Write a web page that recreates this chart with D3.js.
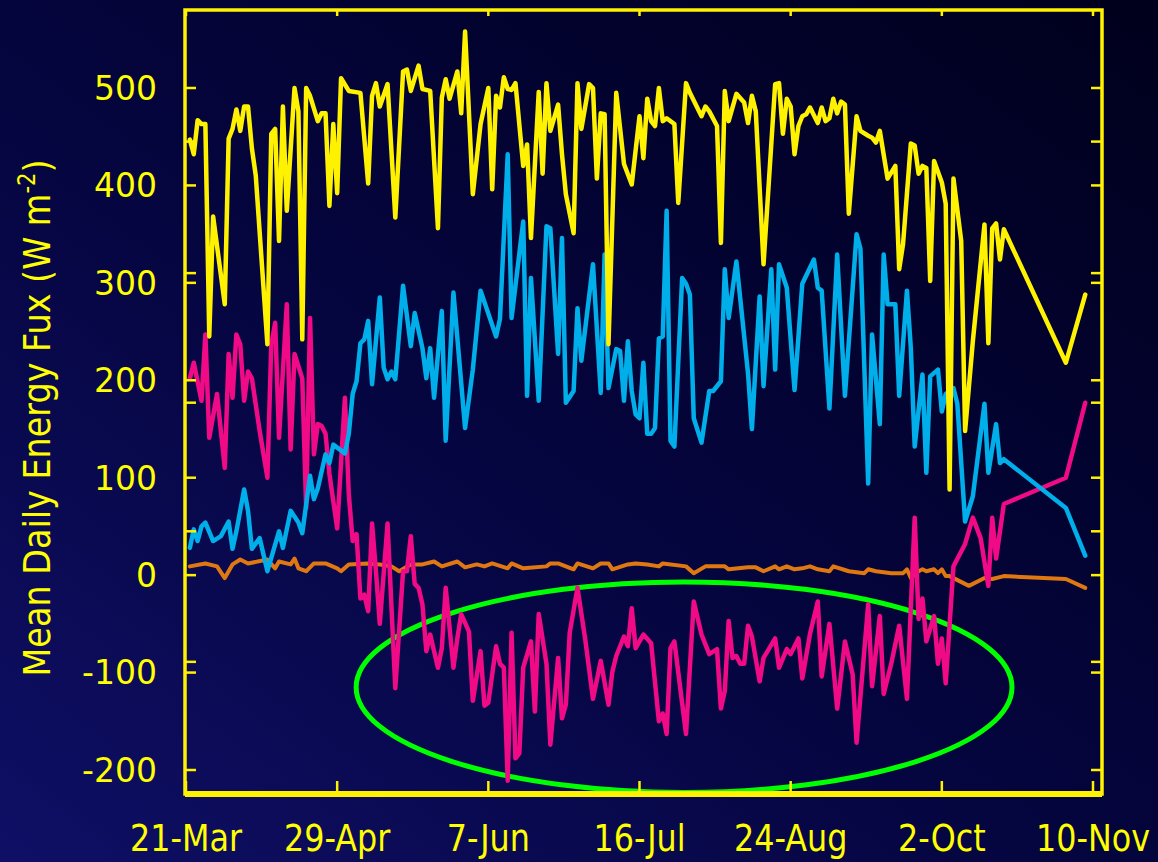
<!DOCTYPE html>
<html>
<head>
<meta charset="utf-8">
<script src="https://cdn.jsdelivr.net/npm/d3@7"></script>
<style>
  html, body { margin: 0; padding: 0; background: #03032a; }
  svg { display: block; }
</style>
</head>
<body>
<svg id="chart" width="1158" height="862"></svg>
<script>
// ==== DATA (day offset from 21-Mar, W m-2) ====
const startUTC = Date.UTC(2003, 2, 21);
const tickDays = [0, 39, 78, 117, 156, 195, 234];
const tickLabels = ["21-Mar", "29-Apr", "7-Jun", "16-Jul", "24-Aug", "2-Oct", "10-Nov"];
const yTicks = [500, 400, 300, 200, 100, 0, -100, -200];
const yExtraTicks = [-89, 45, 177, 310, 445]; // unlabelled ticks of the underlying plot

const yellowPts = [[1,447],[2,432],[3,467],[4,463],[5,463],[6,245],[7,368],[10,278],[11,448],[12,458],[13,478],[14,456],[15,481],[16,481],[17,438],[18,410],[21,237],[22,453],[23,458],[24,343],[25,481],[26,374],[28,500],[29,476],[30,242],[31,500],[32,492],[34,466],[35,474],[36,474],[37,379],[38,463],[39,392],[40,510],[42,497],[45,495],[47,402],[48,492],[49,505],[50,481],[52,504],[54,367],[56,517],[57,519],[58,497],[60,523],[61,499],[63,497],[65,356],[66,490],[67,509],[68,489],[70,517],[71,474],[72,558],[74,391],[76,463],[78,500],[79,396],[80,492],[81,480],[82,511],[83,499],[84,498],[85,505],[87,420],[88,442],[89,346],[91,496],[92,412],[93,505],[94,456],[96,483],[97,432],[98,391],[100,351],[101,505],[102,458],[104,504],[105,500],[106,407],[107,474],[108,473],[109,237],[111,495],[113,422],[115,401],[117,471],[118,428],[119,489],[120,466],[121,461],[122,500],[123,466],[124,469],[126,463],[127,382],[129,505],[130,495],[133,471],[134,481],[135,476],[137,461],[138,341],[139,497],[140,466],[142,494],[144,485],[145,464],[146,492],[147,476],[149,319],[152,504],[153,505],[154,453],[155,489],[156,481],[157,432],[158,461],[159,471],[160,473],[161,480],[163,464],[164,480],[165,466],[166,469],[167,489],[168,474],[169,486],[170,483],[171,371],[173,471],[174,456],[176,451],[177,449],[178,444],[179,456],[181,407],[183,420],[184,314],[185,340],[187,443],[188,441],[189,412],[190,420],[191,418],[192,302],[193,425],[195,403],[196,381],[197,88],[198,407],[200,343],[201,148],[203,240],[206,360],[207,238],[208,356],[209,361],[210,324],[211,355],[227,218],[232,288]];

const cyanPts = [[1,28],[2,47],[3,35],[4,50],[5,54],[7,35],[9,40],[11,55],[12,27],[13,45],[15,88],[16,66],[17,27],[19,38],[21,4],[24,45],[25,28],[27,66],[29,54],[30,43],[32,102],[33,78],[34,89],[36,124],[37,115],[38,134],[41,125],[42,145],[43,186],[44,199],[45,238],[46,242],[47,261],[48,196],[50,285],[51,213],[52,201],[53,209],[54,201],[56,297],[58,235],[59,269],[61,233],[62,202],[63,233],[64,182],[66,271],[67,138],[69,290],[72,151],[74,211],[76,292],[80,245],[81,263],[83,432],[84,264],[87,363],[88,184],[89,305],[91,179],[93,358],[94,356],[96,227],[97,346],[98,177],[100,189],[101,274],[102,220],[105,319],[107,187],[108,329],[109,192],[111,232],[112,230],[113,179],[114,240],[115,189],[116,165],[117,161],[118,218],[119,145],[120,145],[121,151],[122,243],[123,245],[124,374],[125,138],[126,132],[128,305],[129,299],[130,288],[131,161],[133,136],[135,189],[136,189],[138,199],[139,314],[140,264],[142,322],[145,207],[146,150],[148,286],[149,194],[151,314],[152,211],[153,319],[155,295],[157,190],[159,299],[162,324],[163,295],[164,292],[166,171],[168,329],[170,184],[173,350],[174,335],[176,94],[177,247],[179,155],[180,329],[181,278],[183,278],[184,184],[186,292],[187,233],[188,132],[190,206],[191,105],[192,204],[194,211],[195,168],[196,186],[198,192],[199,176],[201,55],[203,81],[206,176],[207,105],[209,155],[210,115],[211,119],[227,69],[232,20]];

const pinkPts = [[1,202],[2,218],[4,179],[5,247],[6,141],[8,186],[10,110],[11,227],[12,182],[13,247],[14,237],[15,179],[16,209],[17,202],[19,148],[21,100],[22,237],[23,259],[24,141],[26,278],[27,129],[28,227],[30,202],[31,69],[32,264],[33,124],[34,155],[35,153],[36,145],[37,104],[38,76],[39,48],[41,182],[42,83],[43,35],[44,42],[45,-24],[46,-20],[47,-37],[48,53],[49,4],[50,-50],[52,53],[54,-116],[56,4],[57,4],[58,40],[59,-9],[60,-13],[61,-30],[62,-78],[63,-61],[65,-95],[66,-75],[67,-13],[69,-95],[70,-65],[71,-40],[73,-58],[74,-129],[76,-78],[77,-134],[78,-131],[80,-73],[81,-91],[82,-95],[83,-211],[84,-59],[85,-188],[86,-183],[87,-95],[89,-68],[90,-140],[91,-40],[93,-91],[94,-174],[96,-85],[97,-147],[98,-133],[99,-59],[101,-13],[103,-66],[105,-127],[107,-88],[109,-133],[110,-99],[111,-83],[113,-63],[114,-73],[115,-34],[116,-75],[118,-61],[120,-70],[122,-150],[123,-142],[124,-163],[125,-75],[126,-68],[129,-163],[131,-27],[133,-61],[135,-81],[137,-76],[138,-137],[139,-119],[140,-47],[141,-85],[142,-83],[143,-91],[144,-91],[145,-52],[146,-63],[148,-109],[149,-85],[152,-65],[153,-95],[155,-76],[156,-81],[158,-65],[159,-106],[161,-60],[163,-27],[164,-104],[166,-50],[168,-137],[170,-68],[172,-102],[173,-172],[176,-30],[177,-114],[179,-42],[180,-122],[182,-90],[184,-52],[186,-127],[188,59],[189,-45],[190,-24],[191,-68],[193,-42],[194,-91],[195,-65],[196,-111],[198,9],[201,32],[203,59],[205,38],[207,-11],[208,59],[209,17],[211,73],[227,100],[232,177]];

const orangePts = [[1,9],[5,12],[8,9],[10,-3],[12,11],[14,16],[16,12],[21,16],[23,7],[24,14],[27,11],[28,17],[29,7],[31,4],[33,12],[36,12],[39,7],[40,4],[42,11],[47,12],[50,11],[53,9],[55,4],[58,11],[61,11],[64,14],[66,9],[70,14],[72,8],[75,11],[77,9],[79,12],[83,7],[84,12],[87,7],[93,9],[94,12],[96,12],[100,6],[101,12],[105,7],[107,12],[109,12],[110,6],[114,11],[116,12],[119,11],[122,9],[123,12],[129,9],[131,2],[134,9],[139,9],[140,6],[145,8],[147,8],[149,4],[152,9],[153,6],[155,9],[157,6],[159,7],[161,9],[163,6],[166,4],[167,9],[171,4],[175,2],[176,6],[178,4],[182,2],[185,2],[186,6],[187,-3],[189,4],[190,6],[191,4],[193,6],[194,2],[195,6],[196,-1],[197,-1],[202,-11],[206,-3],[208,-4],[211,-1],[227,-4],[232,-13]];

// highlighted region (green ellipse): centre [day, W m-2], radii [days, W m-2]
const ellipseCenter = [128.5, -115];
const ellipseRadius = [84.6, 108];

// ==== LAYOUT ====
const svg = d3.select("#chart");
const W = 1158, H = 862;
const frame = { left: 185, right: 1102, top: 10, bottom: 794 };

const day = d => new Date(startUTC + d * 86400000);

const x = d3.scaleUtc()
  .domain([day(0), day(234)])
  .range([186, 1093]);

const y = d3.scaleLinear()
  .domain([-200, 500])
  .range([770, 88]);

const YELLOW = "#fff200";
const TEXT = "#ffff00";

// background
const defs = svg.append("defs");
const bg = defs.append("linearGradient")
  .attr("id", "bg")
  .attr("x1", "0%").attr("y1", "100%")
  .attr("x2", "100%").attr("y2", "0%");
bg.append("stop").attr("offset", "0%").attr("stop-color", "#0f0f66");
bg.append("stop").attr("offset", "45%").attr("stop-color", "#050540");
bg.append("stop").attr("offset", "100%").attr("stop-color", "#00001c");

svg.append("rect").attr("width", W).attr("height", H).attr("fill", "url(#bg)");

defs.append("clipPath").attr("id", "plotClip")
  .append("rect")
  .attr("x", frame.left).attr("y", frame.top)
  .attr("width", frame.right - frame.left)
  .attr("height", frame.bottom - frame.top);

// ==== SERIES ====
const line = d3.line()
  .x(d => x(day(d[0])))
  .y(d => y(d[1]));

const plot = svg.append("g").attr("clip-path", "url(#plotClip)");

function drawSeries(pts, color, width) {
  plot.append("path")
    .datum(pts)
    .attr("d", line)
    .attr("fill", "none")
    .attr("stroke", color)
    .attr("stroke-width", width)
    .attr("stroke-linejoin", "round")
    .attr("stroke-linecap", "round");
}

drawSeries(orangePts, "#e07812", 4);

// green ellipse
const ecx = x(day(ellipseCenter[0]));
const ecy = y(ellipseCenter[1]);
plot.append("ellipse")
  .attr("cx", ecx)
  .attr("cy", ecy)
  .attr("rx", x(day(ellipseCenter[0] + ellipseRadius[0])) - ecx)
  .attr("ry", y(ellipseCenter[1] - ellipseRadius[1]) - ecy)
  .attr("fill", "none")
  .attr("stroke", "#00ff00")
  .attr("stroke-width", 5);

drawSeries(pinkPts, "#f00a86", 4.5);
drawSeries(cyanPts, "#00aeea", 4.5);
drawSeries(yellowPts, YELLOW, 4.5);

// ==== FRAME & TICKS ====
const axisG = svg.append("g");

axisG.append("rect")
  .attr("x", frame.left).attr("y", frame.top)
  .attr("width", frame.right - frame.left)
  .attr("height", frame.bottom - frame.top)
  .attr("fill", "none")
  .attr("stroke", YELLOW)
  .attr("stroke-width", 3.5);

// thicker bottom edge
axisG.append("line")
  .attr("x1", frame.left).attr("x2", frame.right)
  .attr("y1", frame.bottom).attr("y2", frame.bottom)
  .attr("stroke", YELLOW).attr("stroke-width", 6);

const allYTicks = yTicks.concat(yExtraTicks);
allYTicks.forEach(v => {
  [[frame.left, 11], [frame.right, -11]].forEach(([x0, len]) => {
    axisG.append("line")
      .attr("x1", x0).attr("x2", x0 + len)
      .attr("y1", y(v)).attr("y2", y(v))
      .attr("stroke", YELLOW).attr("stroke-width", 2.5);
  });
});

tickDays.forEach(dd => {
  const xp = x(day(dd));
  axisG.append("line")
    .attr("x1", xp).attr("x2", xp)
    .attr("y1", frame.bottom).attr("y2", frame.bottom - 13)
    .attr("stroke", YELLOW).attr("stroke-width", 2.5);
  axisG.append("line")
    .attr("x1", xp).attr("x2", xp)
    .attr("y1", frame.top).attr("y2", frame.top + 6)
    .attr("stroke", YELLOW).attr("stroke-width", 2.5);
});

// ==== LABELS ====
const fontFam = "'Comic Sans MS', 'DejaVu Sans', sans-serif";

svg.append("g")
  .selectAll("text")
  .data(yTicks)
  .join("text")
  .attr("x", 157)
  .attr("y", d => y(d))
  .attr("dy", "0.36em")
  .attr("text-anchor", "end")
  .attr("fill", TEXT)
  .attr("font-family", fontFam)
  .attr("font-size", 33)
  .text(d => d);

svg.append("g")
  .selectAll("text")
  .data(tickDays)
  .join("text")
  .attr("transform", (d, i) => `translate(${x(day(d))},851) scale(0.86,1)`)
  .attr("text-anchor", "middle")
  .attr("fill", TEXT)
  .attr("font-family", fontFam)
  .attr("font-size", 37)
  .text((d, i) => tickLabels[i]);

const title = svg.append("text")
  .attr("transform", "translate(50,418) rotate(-90) scale(0.88,1)")
  .attr("text-anchor", "middle")
  .attr("fill", TEXT)
  .attr("font-family", fontFam)
  .attr("font-size", 38);
title.append("tspan").text("Mean Daily Energy Fux (W m");
title.append("tspan").attr("font-size", 24).attr("dy", -15).text("-2");
title.append("tspan").attr("dy", 15).text(")");
</script>
</body>
</html>
